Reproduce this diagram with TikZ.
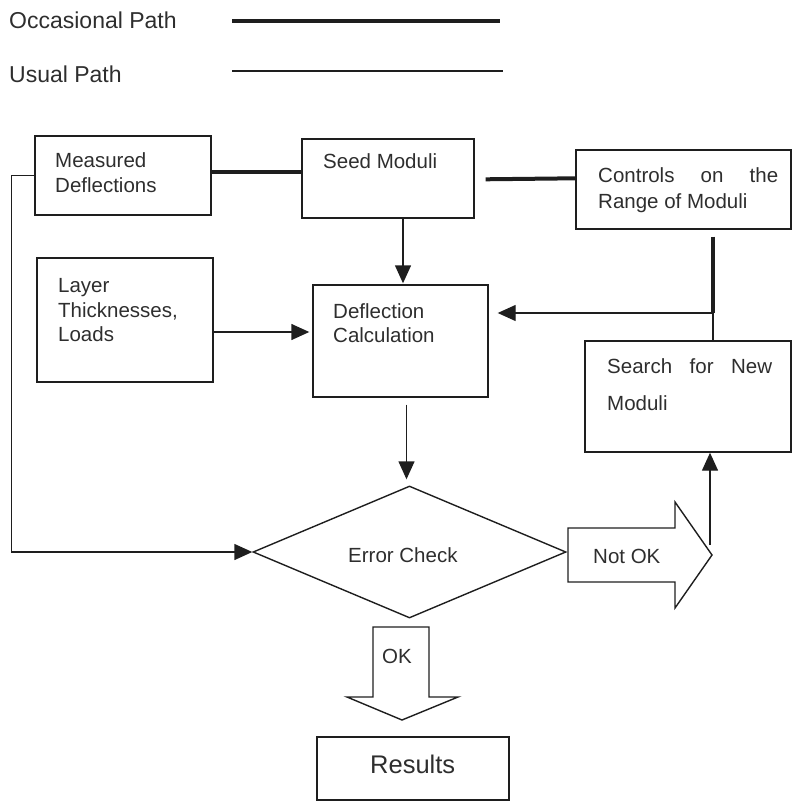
\documentclass[tikz,border=0pt]{standalone}
\usepackage{fontspec}
\setmainfont{Liberation Sans}
\usetikzlibrary{arrows.meta,shapes.geometric,calc}
\definecolor{ink}{HTML}{1E1E1E}
\definecolor{txt}{HTML}{2E2E2E}
\begin{document}
\begin{tikzpicture}[x=1pt,y=-1pt,
  box/.style={draw=ink,line width=1.4pt,rectangle,inner sep=0pt},
  usual/.style={draw=ink,line width=1.4pt},
  occ/.style={draw=ink,line width=4pt},
  arr/.style={usual,-{Triangle[length=18pt,width=16pt]}},
  lbl/.style={anchor=base west,inner sep=0pt,text=txt,font=\fontsize{20.5pt}{25pt}\selectfont},
  legend/.style={lbl,font=\fontsize{23pt}{28pt}\selectfont},
  blockarrow/.style={usual,line join=miter}
]
\useasboundingbox (0,0) rectangle (792,802);

% legend
\node[legend] (lgA) at (9,29) {Occasional Path};
\node[legend] (lgB) at (9,83) {Usual Path};
\coordinate (lgA1) at (232,21);
\coordinate (lgA2) at (500,21);
\coordinate (lgB1) at (232,71);
\coordinate (lgB2) at (503,71);
\draw[occ] (lgA1) -- (lgA2);
\draw[usual] (lgB1) -- (lgB2);

% boxes
\node[box,minimum width=176pt,minimum height=79pt] (meas) at (123,175.5) {};
\node[box,minimum width=172pt,minimum height=79pt] (seed) at (388,178.5) {};
\node[box,minimum width=215pt,minimum height=79pt] (ctrl) at (683.5,189.5) {};
\node[box,minimum width=176pt,minimum height=124pt] (layer) at (125,320) {};
\node[box,minimum width=175pt,minimum height=112pt] (defl) at (400.5,341) {};
\node[box,minimum width=206pt,minimum height=111pt] (search) at (688,396.5) {};
\node[draw=ink,line width=1.4pt,diamond,minimum width=313pt,minimum height=132pt,inner sep=0pt] (chk) at (409.5,552) {};
\node[box,minimum width=192pt,minimum height=63pt] (res) at (413,768.5) {};

% box texts
\node[lbl] (measA) at (55,168) {Measured};
\node[lbl] (measB) at (55,193) {Deflections};
\node[lbl] (seedT) at (323,169) {Seed Moduli};
\node[lbl] (ctrlA) at (598,183) {\makebox[180pt][s]{Controls on the}};
\node[lbl] (ctrlB) at (598,208) {Range of Moduli};
\node[lbl] (layA) at (58,292) {Layer};
\node[lbl] (layB) at (58,317) {Thicknesses,};
\node[lbl] (layC) at (58,341) {Loads};
\node[lbl] (defA) at (333,318) {Deflection};
\node[lbl] (defB) at (333,342) {Calculation};
\node[lbl] (seaA) at (607,373) {\makebox[165pt][s]{Search for New}};
\node[lbl] (seaB) at (607,410) {Moduli};
\node[lbl] (chkT) at (348,562) {Error Check};
\node[lbl,font=\fontsize{25.5pt}{30pt}\selectfont] (resT) at (370,773) {Results};

% occasional paths
\draw[occ] ($(meas.east)+(0,-3.5)$) -- ($(seed.west)+(0,-6.5)$);
\draw[occ] ($(seed.north east)+(11,41)$) -- ($(ctrl.north west)+(0,29)$);
\coordinate (j) at (713,313);
\draw[occ] ($(ctrl.south)+(29.5,7)$) -- (j);

% usual paths
\draw[usual] (j) -- (j |- search.north);
\draw[arr,shorten >=9pt] (j) -- (j -| defl.east);
\path (seed.south) ++(15,0) coordinate (a1);
\draw[arr,shorten >=1pt] (a1) -- (a1 |- defl.north);
\path (layer.east) ++(0,12) coordinate (a3);
\draw[arr,shorten >=3pt] (a3) -- (a3 -| defl.west);
\path (defl.south) ++(6,7) coordinate (a2);
\draw[arr,shorten >=6pt] (a2) -- (a2 |- chk.north);
\draw[arr] (meas.west) -- ++(-23,0) |- (chk.west);
\coordinate (a4) at (710,545);
\draw[arr] (a4) -- (a4 |- search.south);

% decision outcomes
\draw[blockarrow] (568,528) -- (675,528) -- (675,502) -- (712,555)
  -- (675,608) -- (675,582) -- (568,582) -- cycle;
\node[lbl] (nok) at (593,563) {Not OK};
\draw[blockarrow] (373,627) -- (429,627) -- (429,697) -- (458,697)
  -- (402,720) -- (347,697) -- (373,697) -- cycle;
\node[lbl] (ok) at (382,663) {OK};
\end{tikzpicture}
\end{document}
